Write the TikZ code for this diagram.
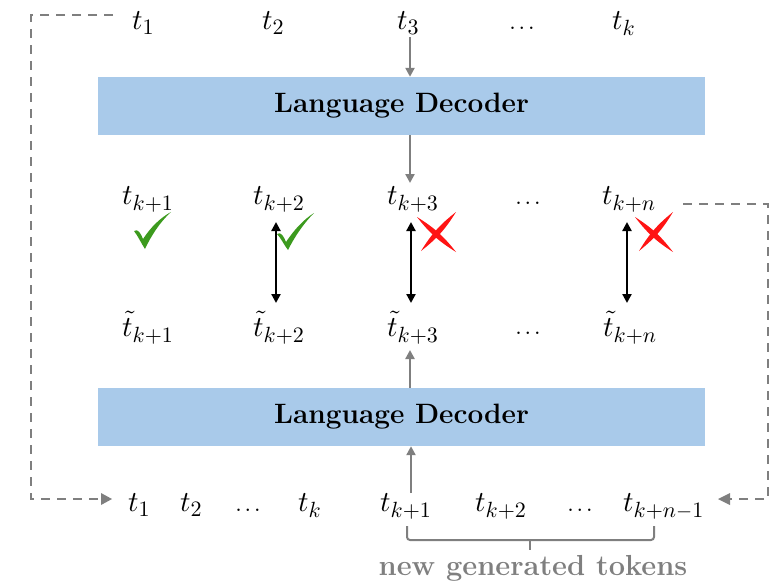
\documentclass[tikz,border=0pt]{standalone}
\usetikzlibrary{arrows.meta,calc}
\DeclareFontShape{OML}{cmm}{m}{it}{<->cmmi10}{}
\DeclareFontShape{OT1}{cmr}{m}{n}{<->cmr10}{}
\DeclareMathSizes{29}{29}{22}{17}
\definecolor{boxblue}{HTML}{A9CAEA}
\definecolor{arrgray}{HTML}{7F7F7F}
\definecolor{chkgreen}{HTML}{3C9A1E}
\definecolor{xred}{HTML}{FF1414}
\newcommand{\mydots}{.\kern2pt.\kern2pt.}
\begin{document}
\begin{tikzpicture}[x=1pt,y=-1pt,
  tok/.style={anchor=base west,inner sep=0pt,font=\fontsize{29}{34}\selectfont},
  dots/.style={anchor=base,inner sep=0pt,font=\fontsize{30}{34}\selectfont},
  decbox/.style={draw=none,fill=boxblue,minimum width=607pt,minimum height=58pt,inner sep=0pt,font=\fontsize{28}{32}\selectfont\bfseries},
  garr/.style={draw=arrgray,line width=2.6pt,-{Triangle[length=9pt,width=9pt]}},
  darr/.style={draw=black,line width=2.2pt,{Triangle[length=9pt,width=9pt]}-{Triangle[length=9pt,width=9pt]}},
  dashline/.style={draw=arrgray,line width=2.6pt,dash pattern=on 9pt off 7pt},
  lens/.style={fill=xred}]
\useasboundingbox (0,0) rectangle (784,584);
% top row
\node[tok] (a1) at (132,29) {$t_1$};
\node[tok] (a2) at (262,29) {$t_2$};
\node[tok] (a3) at (397,29) {$t_3$};
\node[dots] (ad) at (522,29) {\mydots};
\node[tok] (ak) at (612,29) {$t_k$};
% decoders
\node[decbox] (dec1) at (401.5,106) {Language Decoder};
\node[decbox] (dec2) at (401.5,417) {Language Decoder};
% middle row
\node[tok] (m1) at (122,204) {$t_{k+1}$};
\node[tok] (m2) at (253,204) {$t_{k+2}$};
\node[tok] (m3) at (387,204) {$t_{k+3}$};
\node[dots] (md) at (528,204) {\mydots};
\node[tok] (mn) at (602,204) {$t_{k+n}$};
% tilde row
\node[tok] (p1) at (122,336) {$\tilde t_{k+1}$};
\node[tok] (p2) at (253,336) {$\tilde t_{k+2}$};
\node[tok] (p3) at (387,336) {$\tilde t_{k+3}$};
\node[dots] (pd) at (528,334) {\mydots};
\node[tok] (pn) at (603,336) {$\tilde t_{k+n}$};
% bottom row
\node[tok] (b1) at (128,511) {$t_1$};
\node[tok] (b2) at (180,511) {$t_2$};
\node[dots] (bd) at (248,511) {\mydots};
\node[tok] (bk) at (298,511) {$t_k$};
\node[tok] (bk1) at (380,511) {$t_{k+1}$};
\node[tok] (bk2) at (475,511) {$t_{k+2}$};
\node[dots] (bd2) at (580,511) {\mydots};
\node[tok] (bkn) at (623,511) {$t_{k+n-1}$};
% coordinates
\coordinate (c1) at (410,37);
\coordinate (c2) at (410,137);
\coordinate (c3) at (410,183);
\coordinate (c4) at (410,388);
\coordinate (c5) at (410,350);
\coordinate (c6) at (411,493);
\coordinate (c7) at (411,447);
\draw[garr] (c1) -- (dec1.north -| c1);
\draw[garr] (dec1.south -| c2) -- (c3);
\draw[garr] (dec2.north -| c4) -- (c5);
\draw[garr] (c6) -- (dec2.south -| c7);
% double arrows
\coordinate (d1a) at (276,222); \coordinate (d1b) at (276,303);
\coordinate (d2a) at (411,222); \coordinate (d2b) at (411,303);
\coordinate (d3a) at (627,222); \coordinate (d3b) at (627,303);
\draw[darr] (d1a) -- (d1b);
\draw[darr] (d2a) -- (d2b);
\draw[darr] (d3a) -- (d3b);
% checks
\fill[chkgreen] (134,231) .. controls (138,228) and (141,234) .. (143,239) .. controls (151,227) and (160,218) .. (171,212) .. controls (160,222) and (151,236) .. (145,249) .. controls (141,243) and (138,236) .. (134,231) -- cycle;
\fill[chkgreen] (277,234) .. controls (281,231) and (284,237) .. (286,242) .. controls (294,230) and (303,220) .. (314,213) .. controls (303,224) and (294,238) .. (288,250) .. controls (284,245) and (281,238) .. (277,234) -- cycle;
% crosses
\fill[lens] (417,217) to[bend left=10] (456,252) to[bend left=10] (417,217);
\fill[lens] (456,212) to[bend left=10] (421,251) to[bend left=10] (456,212);
\fill[lens] (635,217) to[bend left=10] (673,252) to[bend left=10] (635,217);
\fill[lens] (673,212) to[bend left=10] (639,251) to[bend left=10] (673,212);
% dashed loops
\coordinate (l1) at (113,15);
\coordinate (l2) at (31,15);
\coordinate (l3) at (31,499);
\coordinate (l4) at (112,499);
\draw[dashline] (l1) -- (l2) -- (l3) -- ($(l4)+(-10,0)$);
\fill[arrgray] (l4) -- (101,493) -- (101,505) -- cycle;
\coordinate (r1) at (683,204);
\coordinate (r2) at (768,204);
\coordinate (r3) at (768,499);
\coordinate (r4) at (718,499);
\draw[dashline] (r1) -- (r2) -- (r3) -- (729,499);
\fill[arrgray] (r4) -- (730,493) -- (730,505) -- cycle;
% bracket
\coordinate (br1) at (407,526);
\coordinate (br2) at (654,526);
\draw[arrgray,line width=2pt,rounded corners=3pt] (br1) -- (407,540) -- (654,540) -- (br2);
\draw[arrgray,line width=2pt] (530,540) -- (530,550);
\node[anchor=base,inner sep=0pt,text=arrgray,font=\fontsize{29}{32}\selectfont\bfseries] (lbl) at (533,575) {new generated tokens};
\end{tikzpicture}
\end{document}
